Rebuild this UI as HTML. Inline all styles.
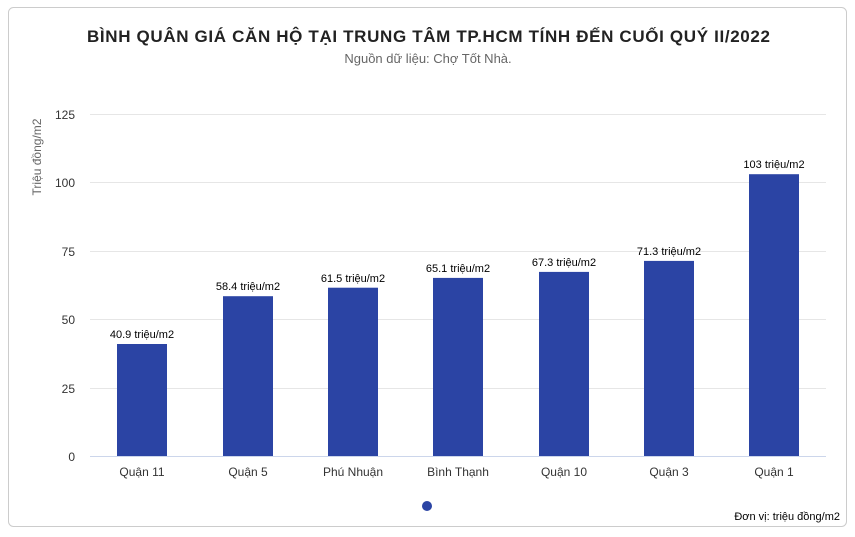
<!DOCTYPE html>
<html><head><meta charset="utf-8"><style>
body{margin:0;background:#fff;}
svg{display:block;font-family:"Liberation Sans","DejaVu Sans",sans-serif;}
</style></head><body>
<svg width="855" height="537" xmlns="http://www.w3.org/2000/svg">
<rect x="8.5" y="7.5" width="838" height="519" rx="5" fill="#fff" stroke="#ccc"/>
<text x="87" y="42" textLength="683" lengthAdjust="spacing" font-size="17" font-weight="bold" fill="#222">BÌNH QUÂN GIÁ CĂN HỘ TẠI TRUNG TÂM TP.HCM TÍNH ĐẾN CUỐI QUÝ II/2022</text>
<text x="428" y="63" text-anchor="middle" font-size="13" fill="#666">Nguồn dữ liệu: Chợ Tốt Nhà.</text>
<g stroke="#e6e6e6" stroke-width="1">
<line x1="90" x2="826" y1="114.5" y2="114.5"/>
<line x1="90" x2="826" y1="182.5" y2="182.5"/>
<line x1="90" x2="826" y1="251.5" y2="251.5"/>
<line x1="90" x2="826" y1="319.5" y2="319.5"/>
<line x1="90" x2="826" y1="388.5" y2="388.5"/>
</g>
<g font-size="12" fill="#333" text-anchor="end">
<text x="75" y="119">125</text><text x="75" y="187">100</text><text x="75" y="256">75</text>
<text x="75" y="324">50</text><text x="75" y="393">25</text><text x="75" y="461">0</text>
</g>
<text transform="translate(41,157) rotate(-90)" text-anchor="middle" font-size="12" fill="#666">Triệu đồng/m2</text>
<g fill="#2b44a4">
<rect x="117" y="344" width="50" height="112"/>
<rect x="223" y="296.2" width="50" height="159.8"/>
<rect x="328" y="287.7" width="50" height="168.3"/>
<rect x="433" y="277.9" width="50" height="178.1"/>
<rect x="539" y="271.9" width="50" height="184.1"/>
<rect x="644" y="260.9" width="50" height="195.1"/>
<rect x="749" y="174.2" width="50" height="281.8"/>
</g>
<line x1="90" x2="826" y1="456.5" y2="456.5" stroke="#ccd6eb"/>
<g font-size="11" fill="#000" text-anchor="middle">
<text x="142" y="338">40.9 triệu/m2</text>
<text x="248" y="290">58.4 triệu/m2</text>
<text x="353" y="282">61.5 triệu/m2</text>
<text x="458" y="272">65.1 triệu/m2</text>
<text x="564" y="266">67.3 triệu/m2</text>
<text x="669" y="255">71.3 triệu/m2</text>
<text x="774" y="168">103 triệu/m2</text>
</g>
<g font-size="12" fill="#333" text-anchor="middle">
<text x="142" y="476">Quận 11</text><text x="248" y="476">Quận 5</text><text x="353" y="476">Phú Nhuận</text>
<text x="458" y="476">Bình Thạnh</text><text x="564" y="476">Quận 10</text><text x="669" y="476">Quận 3</text><text x="774" y="476">Quận 1</text>
</g>
<circle cx="427" cy="506" r="5" fill="#2b44a4"/>
<text x="840" y="520" text-anchor="end" font-size="11" fill="#000">Đơn vị: triệu đồng/m2</text>
</svg>
</body></html>
